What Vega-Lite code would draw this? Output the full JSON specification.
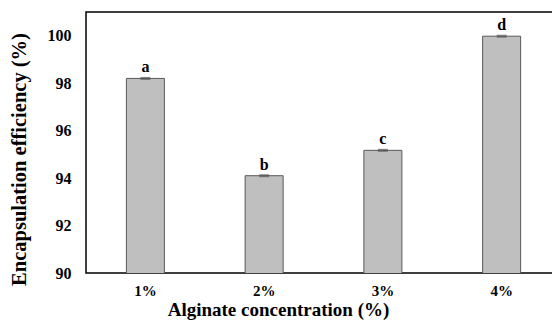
{
  "$schema": "https://vega.github.io/schema/vega-lite/v6.json",
  "width": 475,
  "height": 261,
  "autosize": {"type": "none"},
  "padding": {"left": 86, "top": 12, "right": 0, "bottom": 49},
  "background": "white",
  "config": {
    "view": {"stroke": "#000000", "strokeWidth": 1.5},
    "font": "Liberation Serif"
  },
  "data": {
    "values": [
      {"conc": "1%", "value": 98.2, "letter": "a"},
      {"conc": "2%", "value": 94.1, "letter": "b"},
      {"conc": "3%", "value": 95.17, "letter": "c"},
      {"conc": "4%", "value": 99.98, "letter": "d"}
    ]
  },
  "encoding": {
    "x": {
      "field": "conc",
      "type": "nominal",
      "scale": {"paddingInner": 0.68, "paddingOuter": 0.34},
      "axis": {
        "title": "Alginate concentration (%)",
        "labelAngle": 0,
        "labelFont": "Liberation Serif",
        "labelFontWeight": "bold",
        "labelFontSize": 15,
        "labelColor": "#000000",
        "labelPadding": 10,
        "ticks": false,
        "domain": false,
        "titleFont": "Liberation Serif",
        "titleFontWeight": "bold",
        "titleFontSize": 19,
        "titleColor": "#000000",
        "titlePadding": 2,
        "titleX": 192
      }
    }
  },
  "layer": [
    {
      "mark": {"type": "bar", "fill": "#bfbfbf", "stroke": "#595959", "strokeWidth": 1, "clip": true},
      "encoding": {
        "y": {
          "field": "value",
          "type": "quantitative",
          "scale": {"domain": [90, 101], "nice": false, "zero": false},
          "axis": {
            "values": [90, 92, 94, 96, 98, 100],
            "title": "Encapsulation efficiency (%)",
            "grid": false,
            "ticks": false,
            "domain": false,
            "labelFont": "Liberation Serif",
            "labelFontWeight": "bold",
            "labelFontSize": 16,
            "labelColor": "#000000",
            "labelPadding": 15,
            "titleFont": "Liberation Serif",
            "titleFontWeight": "bold",
            "titleFontSize": 20.5,
            "titleColor": "#000000",
            "titlePadding": 18,
            "titleY": 147
          }
        }
      }
    },
    {
      "mark": {"type": "tick", "color": "#555555", "thickness": 3, "size": 10, "orient": "horizontal"},
      "encoding": {
        "y": {"field": "value", "type": "quantitative"}
      }
    },
    {
      "mark": {"type": "text", "dy": -11, "fontSize": 16, "fontWeight": "bold", "font": "Liberation Serif", "color": "#000000"},
      "encoding": {
        "y": {"field": "value", "type": "quantitative"},
        "text": {"field": "letter"}
      }
    }
  ]
}
